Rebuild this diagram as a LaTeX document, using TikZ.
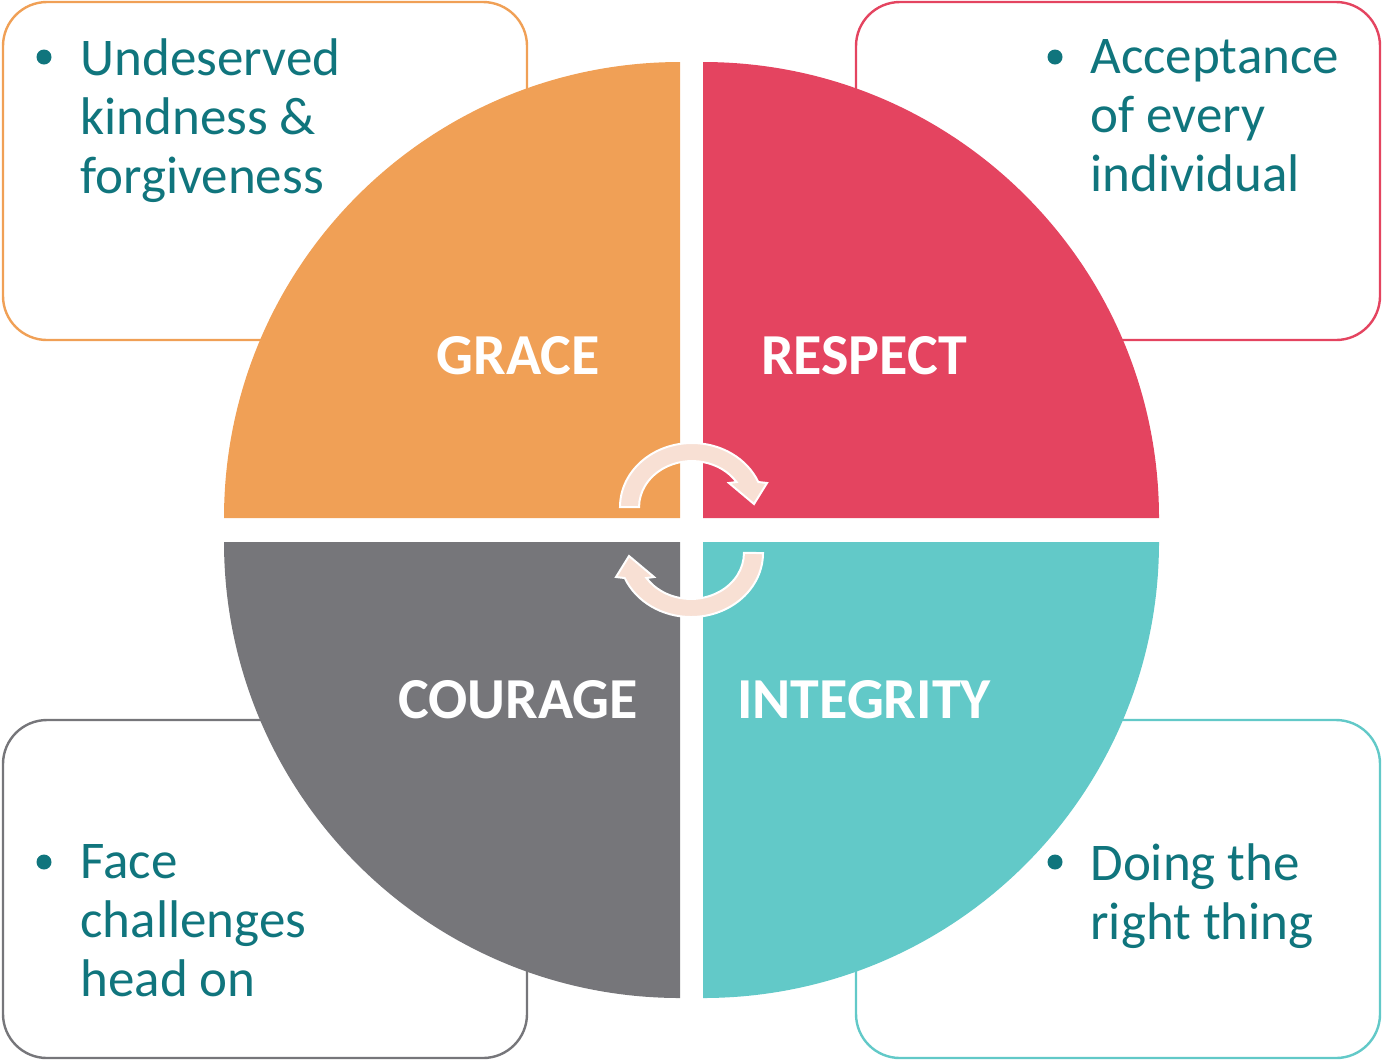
\documentclass[tikz,border=0pt]{standalone}
\usepackage{fontspec}
\setmainfont{Carlito}
\usepackage{xcolor}
\usetikzlibrary{positioning}

\definecolor{graceorange}{RGB}{240,160,86}
\definecolor{respectred}{RGB}{228,68,96}
\definecolor{couragegray}{RGB}{118,118,122}
\definecolor{integrityteal}{RGB}{98,201,200}
\definecolor{bulletteal}{RGB}{16,117,125}
\definecolor{arrowpeach}{RGB}{248,224,212}

\begin{document}
\begin{tikzpicture}[
					x=0.5pt, y=-0.5pt,
					infobox/.style={
						line width=1.2pt, fill=white,
						rounded corners=22pt
					},
					value/.style={
						text=white, inner sep=0pt,
						font=\fontsize{29}{32}\selectfont\bfseries
					},
					bulletdot/.style={
						circle, fill=bulletteal, inner sep=0pt, minimum size=7.5pt
					},
					bullettext/.style={
						text=bulletteal, align=left, anchor=north west, inner sep=0pt,
						font=\fontsize{26.5}{29.5}\selectfont
					},
					cyclearrow/.style={
						fill=arrowpeach, draw=white, line width=1pt, line join=miter
					}
					]
					\useasboundingbox (0,0) rectangle (1384,1062);
					
					% Khung chữ ở bốn góc
					\draw[infobox, draw=graceorange] (3,2) rectangle (527,340);
					\draw[infobox, draw=respectred] (856,2) rectangle (1380,340);
					\draw[infobox, draw=couragegray] (3,720) rectangle (527,1058);
					\draw[infobox, draw=integrityteal] (856,720) rectangle (1380,1058);
					
					% Bốn phần tư của hình tròn
					\fill[graceorange] (680,518) -- (224,518) arc[start angle=180, end angle=270, radius=456] -- cycle;
					\fill[respectred] (703,518) -- (703,62) arc[start angle=270, end angle=360, radius=456] -- cycle;
					\fill[couragegray] (680,542) -- (680,998) arc[start angle=90, end angle=180, radius=456] -- cycle;
					\fill[integrityteal] (703,542) -- (1159,542) arc[start angle=0, end angle=90, radius=456] -- cycle;
					
					% Mũi tên vòng ở giữa
					\draw[cyclearrow] (620,507) arc[start angle=180, end angle=337, x radius=72, y radius=64]
						-- (767,483) -- (754,504) -- (729,483) -- (736.5,482)
						arc[start angle=-33, end angle=-180, x radius=53, y radius=46] -- cycle;
					\draw[cyclearrow, rotate around={180:(691.5,530)}] (620,507) arc[start angle=180, end angle=337, x radius=72, y radius=64]
						-- (767,483) -- (754,504) -- (729,483) -- (736.5,482)
						arc[start angle=-33, end angle=-180, x radius=53, y radius=46] -- cycle;
					
					% Tên các giá trị
					\node[value] (grace) at (518,356) {GRACE};
					\node[value] (respect) at (864,356) {RESPECT};
					\node[value] (courage) at (518,700) {COURAGE};
					\node[value] (integrity) at (864,700) {INTEGRITY};
					
					% Các gạch đầu dòng
					\node[bullettext] (gracetext) at (80,38) {Undeserved\\kindness \&\\forgiveness};
					\node[bullettext] (respecttext) at (1090,39) {Acceptance\\of every\\individual};
					\node[bullettext] (couragetext) at (80,844) {Face\\challenges\\head on};
					\node[bullettext] (integritytext) at (1090,843) {Doing the\\right thing};
					\node[bulletdot] (gracedot) at (44,57) {};
					\node[bulletdot] (respectdot) at (1055,57) {};
					\node[bulletdot] (couragedot) at (44,862) {};
					\node[bulletdot] (integritydot) at (1055,862) {};
				\end{tikzpicture}
\end{document}
